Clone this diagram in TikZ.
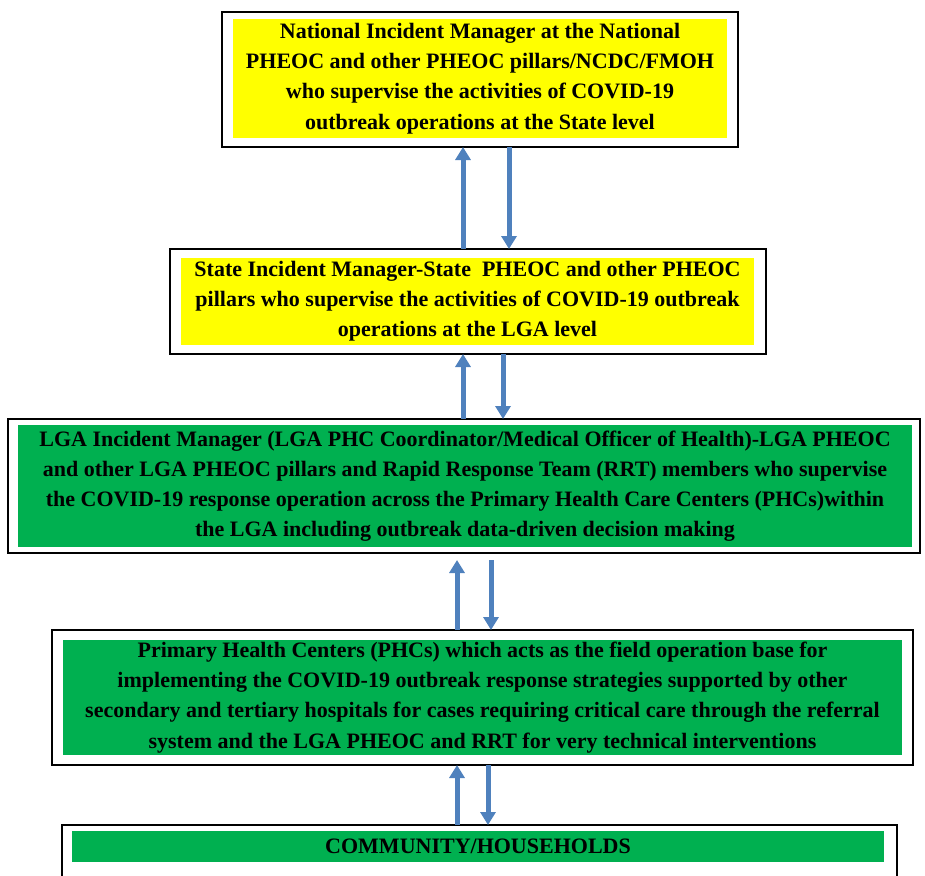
\documentclass[tikz,border=0pt]{standalone}
\usepackage{fontspec}
\setmainfont{Liberation Serif}
\usetikzlibrary{arrows.meta}
\definecolor{boxgreen}{RGB}{0,176,80}
\definecolor{boxyellow}{RGB}{255,255,0}
\definecolor{arrblue}{RGB}{79,129,189}
\tikzset{
  outerbox/.style={draw=black, line width=2pt, fill=white, inner sep=0pt, outer sep=0pt},
  fillbox/.style={inner sep=0pt, outer sep=0pt, align=center, font=\fontsize{22}{30.2}\selectfont\bfseries},
  yel/.style={fillbox, fill=boxyellow},
  grn/.style={fillbox, fill=boxgreen},
  arr/.style={draw=arrblue, line width=5pt, -{Triangle[width=15pt,length=13pt]}}
}
\begin{document}
\begin{tikzpicture}[x=1pt,y=-1pt]
\useasboundingbox (0,0) rectangle (925,875);
\clip (0,0) rectangle (925,875);
% boxes
\node[outerbox, minimum width=516pt, minimum height=135pt] (topbox) at (480,79.5) {};
\node[yel, minimum width=494pt, minimum height=118pt] (topfill) at (480,78.5) {National Incident Manager at the National\\PHEOC and other PHEOC pillars/NCDC/FMOH\\who supervise the activities of COVID-19\\outbreak operations at the State level};
\node[outerbox, minimum width=596pt, minimum height=105pt] (statebox) at (468,301.5) {};
\node[yel, minimum width=573pt, minimum height=87pt] (statefill) at (467.5,301.5) {State Incident Manager-State\ \ PHEOC and other PHEOC\\pillars who supervise the activities\ of COVID-19 outbreak\\operations at the LGA level};
\node[outerbox, minimum width=912pt, minimum height=134pt] (lgabox) at (464,486) {};
\node[grn, minimum width=894pt, minimum height=122pt] (lgafill) at (465,486) {LGA Incident Manager\ (LGA PHC Coordinator/Medical Officer of Health)-LGA PHEOC\\and other LGA PHEOC pillars and Rapid Response Team (RRT) members\ who supervise\\the COVID-19 response operation across\ the Primary\ Health\ Care Centers\ (PHCs)within\\the LGA including outbreak data-driven decision making};
\node[outerbox, minimum width=861pt, minimum height=135pt] (phcbox) at (482.5,697.5) {};
\node[grn, minimum width=839pt, minimum height=115pt] (phcfill) at (482.5,697.5) {Primary\ Health Centers (PHCs) which acts as the field operation base for\\implementing the COVID-19 outbreak response strategies\ supported by other\\secondary and tertiary\ hospitals for cases requiring critical care through the referral\\system and the LGA PHEOC and RRT for very technical interventions};
\node[outerbox, minimum width=835pt, minimum height=75pt] (commbox) at (479.5,862.5) {};
\node[grn, minimum width=812pt, minimum height=31pt] (commfill) at (478,846.5) {COMMUNITY/HOUSEHOLDS};
% arrows
\draw[arr] (statebox.north -| 463,0) -- (topbox.south -| 463,0);
\draw[arr] (topbox.south -| 509,0) -- (statebox.north -| 509,0);
\draw[arr] (lgabox.north -| 463,0) -- (statebox.south -| 463,0);
\draw[arr] (statebox.south -| 503,0) -- (lgabox.north -| 503,0);
\draw[arr] (phcbox.north -| 457,0) -- ([yshift=-7pt]lgabox.south -| 457,0);
\draw[arr] ([yshift=-7pt]lgabox.south -| 491,0) -- (phcbox.north -| 491,0);
\draw[arr] (commbox.north -| 457,0) -- (phcbox.south -| 457,0);
\draw[arr] (phcbox.south -| 488,0) -- (commbox.north -| 488,0);
\end{tikzpicture}
\end{document}
